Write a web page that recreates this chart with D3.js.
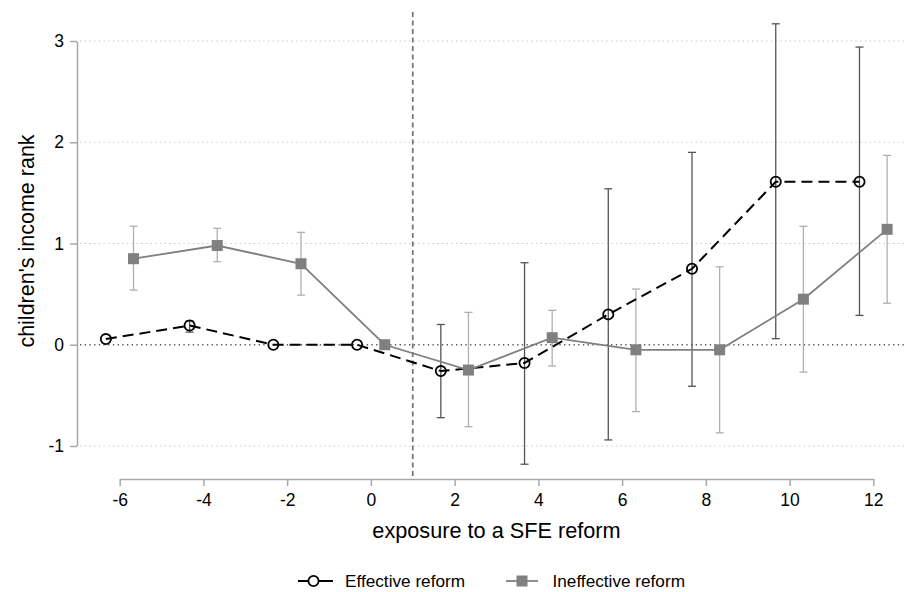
<!DOCTYPE html>
<html>
<head>
<meta charset="utf-8">
<script src="https://cdn.jsdelivr.net/npm/d3@7"></script>
<style>
  body { margin: 0; background: #fff; }
  svg text { font-family: "Liberation Sans", Helvetica, Arial, sans-serif; fill: #000; }
</style>
</head>
<body>
<div id="display"></div>
<script>
// exposure (years) for each series, offset either side of the integer ticks
var effX  = [-6.33, -4.33, -2.33, -0.33, 1.67, 3.67, 5.67, 7.67, 9.67, 11.67]
var effY  = [0.056, 0.19, 0, 0, -0.26, -0.18, 0.30, 0.75, 1.61, 1.61]
var effLo = [null, 0.125, null, null, -0.72, -1.18, -0.94, -0.41, 0.06, 0.29]
var effHi = [null, 0.235, null, null, 0.20, 0.81, 1.54, 1.90, 3.17, 2.94]

var ineX  = [-5.67, -3.67, -1.67, 0.33, 2.33, 4.33, 6.33, 8.33, 10.33, 12.33]
var ineY  = [0.85, 0.98, 0.80, 0, -0.25, 0.07, -0.05, -0.05, 0.45, 1.14]
var ineLo = [0.54, 0.82, 0.49, null, -0.81, -0.21, -0.66, -0.87, -0.27, 0.41]
var ineHi = [1.17, 1.15, 1.11, null, 0.32, 0.34, 0.55, 0.77, 1.17, 1.87]

var xTicks = [-6, -4, -2, 0, 2, 4, 6, 8, 10, 12]
var yTicks = [-1, 0, 1, 2, 3]
var refLine = 1
var legendLabels = ['Effective reform', 'Ineffective reform']

var width = 905, height = 592
var svg = d3.select('#display').append('svg')
  .attr('width', width)
  .attr('height', height)

var x = d3.scaleLinear().domain([-6, 12]).range([119.7, 873.3])
var y = d3.scaleLinear().domain([-1, 3]).range([446, 41])
var axisX = 77, axisY = 479

function rows(xs, ys, lo, hi){
  return xs.map(function(d, i){ return {x: d, y: ys[i], lo: lo[i], hi: hi[i]} })
}
var eff = rows(effX, effY, effLo, effHi)
var ine = rows(ineX, ineY, ineLo, ineHi)

// grid lines
svg.selectAll('line.grid').data(yTicks).enter()
  .append('line')
  .attr('class', 'grid')
  .attr('x1', axisX + 3)
  .attr('x2', width)
  .attr('y1', function(d){ return y(d) })
  .attr('y2', function(d){ return y(d) })
  .attr('stroke', function(d){ return d == 0 ? '#555' : '#c4c4c4' })
  .attr('stroke-width', function(d){ return d == 0 ? 1.3 : 1.2 })
  .attr('stroke-dasharray', '1.3,3.4')

// reform line
svg.append('line')
  .attr('x1', x(refLine)).attr('x2', x(refLine))
  .attr('y1', 12).attr('y2', axisY)
  .attr('stroke', '#777')
  .attr('stroke-width', 1.8)
  .attr('stroke-dasharray', '5,3.5')

// axes
var gy = svg.append('g')
  .attr('transform', 'translate(' + axisX + ',0)')
  .call(d3.axisLeft(y).tickValues(yTicks).tickSize(7).tickSizeOuter(0).tickPadding(6))
var gx = svg.append('g')
  .attr('transform', 'translate(0,' + axisY + ')')
  .call(d3.axisBottom(x).tickValues(xTicks).tickSize(7).tickSizeOuter(0).tickPadding(8))
svg.selectAll('.domain, .tick line')
  .attr('stroke', '#a8a8a8')
  .attr('stroke-width', 1.5)
svg.selectAll('.tick text')
  .attr('font-size', 17.5)
  .attr('fill', '#000')
  .text(function(d){ return String(d).replace('\u2212', '-') })

// axis titles
svg.append('text')
  .attr('transform', 'translate(34,241) rotate(-90)')
  .attr('text-anchor', 'middle')
  .attr('font-size', 21.5)
  .text("children's income rank")
svg.append('text')
  .attr('x', 496.5)
  .attr('y', 538)
  .attr('text-anchor', 'middle')
  .attr('font-size', 21.7)
  .text('exposure to a SFE reform')

// confidence intervals
function drawCI(data, color){
  var g = svg.append('g')
  var bars = data.filter(function(d){ return d.lo != null })
  g.selectAll('line.v').data(bars).enter().append('line')
    .attr('x1', function(d){ return x(d.x) }).attr('x2', function(d){ return x(d.x) })
    .attr('y1', function(d){ return y(d.lo) }).attr('y2', function(d){ return y(d.hi) })
    .attr('stroke', color).attr('stroke-width', 1.3)
  ;['lo', 'hi'].forEach(function(k){
    g.selectAll('line.' + k).data(bars).enter().append('line')
      .attr('x1', function(d){ return x(d.x) - 4 }).attr('x2', function(d){ return x(d.x) + 4 })
      .attr('y1', function(d){ return y(d[k]) }).attr('y2', function(d){ return y(d[k]) })
      .attr('stroke', color).attr('stroke-width', 1.3)
  })
}
drawCI(eff, '#555555')
drawCI(ine, '#b0b0b0')

var line = d3.line().x(function(d){ return x(d.x) }).y(function(d){ return y(d.y) })

svg.append('path').datum(eff)
  .attr('d', line)
  .attr('fill', 'none')
  .attr('stroke', '#000')
  .attr('stroke-width', 2)
  .attr('stroke-dasharray', '11,6')

svg.append('path').datum(ine)
  .attr('d', line)
  .attr('fill', 'none')
  .attr('stroke', '#808080')
  .attr('stroke-width', 1.8)

svg.selectAll('rect.ine').data(ine).enter().append('rect')
  .attr('class', 'ine')
  .attr('x', function(d){ return x(d.x) - 5.5 })
  .attr('y', function(d){ return y(d.y) - 5.5 })
  .attr('width', 11).attr('height', 11)
  .attr('fill', '#808080')

svg.selectAll('circle.eff').data(eff).enter().append('circle')
  .attr('class', 'eff')
  .attr('cx', function(d){ return x(d.x) })
  .attr('cy', function(d){ return y(d.y) })
  .attr('r', 5.1)
  .attr('fill', 'none')
  .attr('stroke', '#000')
  .attr('stroke-width', 1.8)

// legend
var legY = 581
var leg = svg.append('g')
leg.append('line').attr('x1', 298).attr('x2', 333).attr('y1', legY).attr('y2', legY)
  .attr('stroke', '#000').attr('stroke-width', 1.8)
leg.append('circle').attr('cx', 313.5).attr('cy', legY).attr('r', 5.1)
  .attr('fill', '#fff').attr('stroke', '#000').attr('stroke-width', 1.8)
leg.append('text').attr('x', 345).attr('y', legY + 6).attr('font-size', 17.2).text(legendLabels[0])

leg.append('line').attr('x1', 506).attr('x2', 538).attr('y1', legY).attr('y2', legY)
  .attr('stroke', '#808080').attr('stroke-width', 1.8)
leg.append('rect').attr('x', 522 - 5.5).attr('y', legY - 5.5).attr('width', 11).attr('height', 11)
  .attr('fill', '#808080')
leg.append('text').attr('x', 552.5).attr('y', legY + 6).attr('font-size', 17.2).text(legendLabels[1])
</script>
</body>
</html>
